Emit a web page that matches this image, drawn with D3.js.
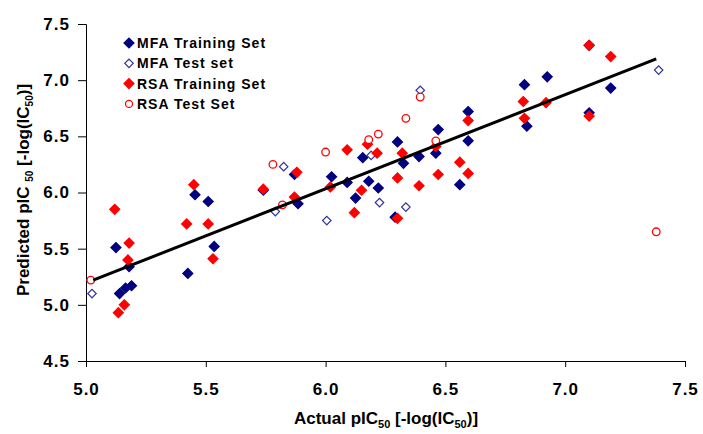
<!DOCTYPE html>
<html>
<head>
<meta charset="utf-8">
<script src="https://cdn.jsdelivr.net/npm/d3@7"></script>
<style>
  body { margin: 0; background: #fff; }
  text { font-family: "Liberation Sans", Arial, sans-serif; font-weight: bold; }
</style>
</head>
<body>
<script>
// data: [actual, predicted]
var mfaTrain = [
  [5.125,5.51],[5.18,5.34],[5.14,5.10],[5.165,5.15],[5.19,5.17],
  [5.455,5.98],[5.51,5.92],[5.535,5.52],[5.425,5.28],[5.74,6.02],
  [5.87,6.16],[5.885,5.90],[6.025,6.14],[6.09,6.09],[6.155,6.31],
  [6.18,6.10],[6.22,6.04],[6.125,5.95],[6.30,6.45],[6.29,5.78],
  [6.325,6.26],[6.39,6.32],[6.47,6.56],[6.46,6.35],[6.595,6.72],
  [6.595,6.46],[6.56,6.07],[6.83,6.96],[6.84,6.59],[6.925,7.03],
  [7.19,6.93],[7.10,7.31],[7.10,6.71]
];
var mfaTest = [
  [5.025,5.10],[5.825,6.23],[5.79,5.83],[6.19,6.33],[6.225,5.91],
  [6.005,5.75],[6.395,6.91],[6.335,5.87],[7.39,7.09]
];
var rsaTrain = [
  [5.12,5.85],[5.18,5.55],[5.175,5.40],[5.16,5.00],[5.135,4.93],
  [5.45,6.07],[5.42,5.72],[5.51,5.72],[5.53,5.41],[5.88,6.18],
  [5.74,6.03],[6.09,6.38],[6.175,6.43],[6.215,6.35],[6.02,6.05],
  [6.15,6.02],[6.12,5.82],[5.87,5.96],[6.30,6.13],[6.30,5.77],
  [6.32,6.35],[6.46,6.41],[6.595,6.64],[6.56,6.27],[6.595,6.17],
  [6.47,6.16],[6.39,6.06],[6.825,6.81],[6.83,6.66],[7.10,7.31],
  [7.19,7.21],[6.92,6.80],[7.10,6.68]
];
var rsaTest = [
  [5.02,5.22],[5.78,6.25],[6.0,6.36],[6.18,6.47],[6.22,6.52],
  [5.82,5.89],[6.395,6.85],[6.335,6.66],[6.46,6.46],[7.38,5.65]
];
// regression line ends
var trendX = [5.03, 7.38];
var trendY = [5.22, 7.19];

var xTicks = [5.0, 5.5, 6.0, 6.5, 7.0, 7.5];
var yTicks = [4.5, 5.0, 5.5, 6.0, 6.5, 7.0, 7.5];

var legendNames = ["MFA Training Set", "MFA Test set", "RSA Training Set", "RSA Test Set"];

var navy = "#000080", blueOpen = "#3333a0", red = "#ff0000";

var svg = d3.select("body").append("svg")
  .attr("width", 703)
  .attr("height", 434);

var x = d3.scaleLinear().domain([5, 7.5]).range([86, 685]);
var y = d3.scaleLinear().domain([4.5, 7.5]).range([361, 24]);

// axes
svg.append("g")
  .attr("transform", "translate(0,361)")
  .call(d3.axisBottom(x).tickValues(xTicks).tickFormat(d3.format(".1f")).tickSize(6).tickPadding(16))
  .call(function(g){
    g.select(".domain").attr("stroke", "#000");
    g.selectAll("text").style("font-size", "17px").style("letter-spacing", "1px").attr("fill", "#000");
  });

svg.append("g")
  .attr("transform", "translate(86,0)")
  .call(d3.axisLeft(y).tickValues(yTicks).tickFormat(d3.format(".1f")).tickSize(8).tickPadding(8))
  .call(function(g){
    g.select(".domain").attr("stroke", "#000");
    g.selectAll("text").style("font-size", "17px").style("letter-spacing", "1px").attr("fill", "#000");
  });

// axis titles
var xt = svg.append("text")
  .attr("x", 386).attr("y", 424)
  .attr("text-anchor", "middle")
  .style("font-size", "17px");
xt.append("tspan").text("Actual pIC");
xt.append("tspan").attr("dy", 4).style("font-size", "11px").text("50");
xt.append("tspan").attr("dy", -4).text(" [-log(IC");
xt.append("tspan").attr("dy", 4).style("font-size", "11px").text("50");
xt.append("tspan").attr("dy", -4).text(")]");

var yt = svg.append("text")
  .attr("transform", "translate(29,190) rotate(-90)")
  .attr("text-anchor", "middle")
  .style("font-size", "17px");
yt.append("tspan").text("Predicted pIC ");
yt.append("tspan").attr("dy", 4).style("font-size", "10px").text("50");
yt.append("tspan").attr("dy", -4).text(" [-log(IC");
yt.append("tspan").attr("dy", 4).style("font-size", "10px").text("50");
yt.append("tspan").attr("dy", -4).text(")]");

var diamond = d3.symbol().type(d3.symbolSquare).size(50)();
var diamondOpen = d3.symbol().type(d3.symbolSquare).size(36)();

function plotDiamonds(data, fill, stroke, path) {
  svg.append("g").selectAll("path")
    .data(data)
    .enter()
    .append("path")
    .attr("d", path)
    .attr("transform", function(d){ return "translate(" + x(d[0]) + "," + y(d[1]) + ") rotate(45)"; })
    .attr("fill", fill)
    .attr("stroke", stroke)
    .attr("stroke-width", 1.2);
}

plotDiamonds(mfaTrain, navy, navy, diamond);
plotDiamonds(mfaTest, "#fff", blueOpen, diamondOpen);
plotDiamonds(rsaTrain, red, red, diamond);

svg.append("g").selectAll("circle")
  .data(rsaTest)
  .enter()
  .append("circle")
  .attr("cx", function(d){ return x(d[0]); })
  .attr("cy", function(d){ return y(d[1]); })
  .attr("r", 3.8)
  .attr("fill", "#fff")
  .attr("stroke", red)
  .attr("stroke-width", 1.3);

// trend line
svg.append("line")
  .attr("x1", x(trendX[0])).attr("y1", y(trendY[0]))
  .attr("x2", x(trendX[1])).attr("y2", y(trendY[1]))
  .attr("stroke", "#000")
  .attr("stroke-width", 3);

// legend
var leg = svg.append("g").selectAll("g")
  .data(legendNames)
  .enter()
  .append("g")
  .attr("transform", function(d,i){ return "translate(129," + (43 + i*20.3) + ")"; });

leg.each(function(d,i){
  var g = d3.select(this);
  if (i === 3) {
    g.append("circle").attr("r", 3.5).attr("fill", "#fff").attr("stroke", red).attr("stroke-width", 1.3);
  } else {
    g.append("path")
      .attr("d", i === 1 ? diamondOpen : diamond)
      .attr("transform", "rotate(45)")
      .attr("fill", i === 0 ? navy : i === 1 ? "#fff" : red)
      .attr("stroke", i === 1 ? blueOpen : (i === 0 ? navy : red))
      .attr("stroke-width", 1.2);
  }
  g.append("text")
    .attr("x", 8).attr("y", 5)
    .style("font-size", "14px")
    .style("letter-spacing", "1px")
    .text(d);
});
</script>
</body>
</html>
